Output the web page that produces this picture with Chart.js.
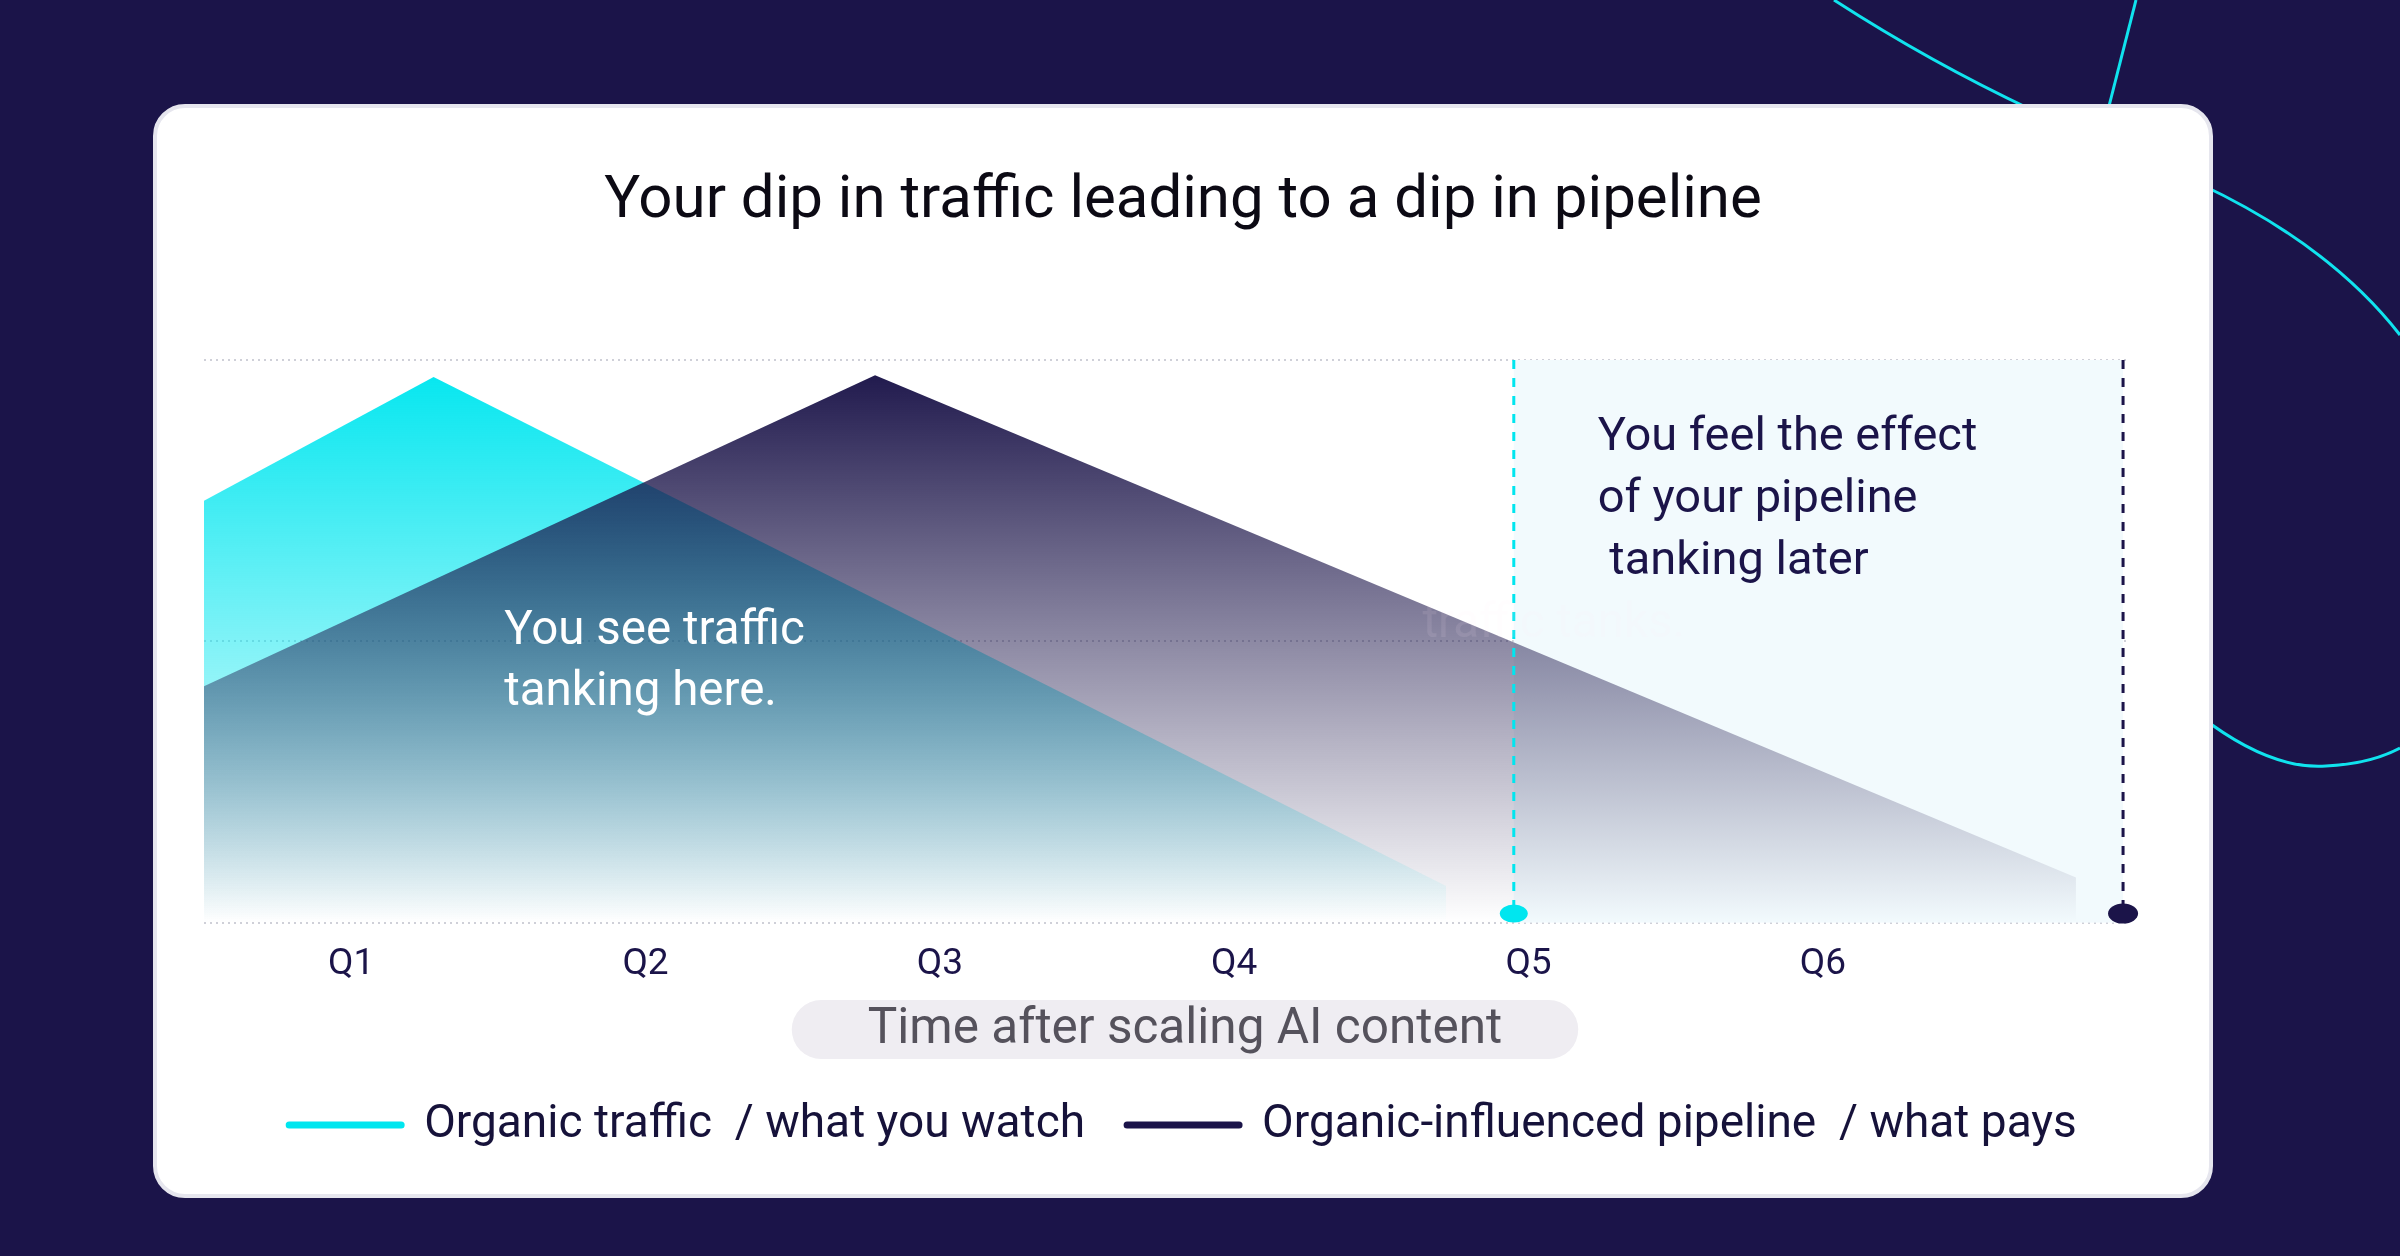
<!DOCTYPE html>
<html>
<head>
<meta charset="utf-8">
<script src="https://cdn.jsdelivr.net/npm/chart.js@4.4.1/dist/chart.umd.min.js"></script>
<style>
  html, body { margin: 0; padding: 0; }
  body { width: 2400px; height: 1256px; background: #1b1449; position: relative; overflow: hidden; font-family: Roboto, sans-serif; }
  #deco { position: absolute; left: 0; top: 0; }
  #card { position: absolute; left: 153px; top: 104px; width: 2060px; height: 1094px; box-sizing: border-box;
          background: #fff; border: 4px solid #e6e6ee; border-radius: 32px; }
  #wrap { position: absolute; left: 0; top: 0; right: 0; bottom: 0; }
</style>
</head>
<body>
<svg id="deco" width="2400" height="1256">
  <g fill="none" stroke="#10e3ee" stroke-width="3">
    <path d="M1834,0 Q1930,62 2032,110"/>
    <path d="M2136,0 L2108,110"/>
    <path d="M2200,184 Q2330,245 2400,335"/>
    <path d="M2200,716 Q2270,770 2326,766 Q2370,764 2400,748"/>
  </g>
</svg>
<div id="card"><div id="wrap"><canvas id="chart"></canvas></div></div>
<script>
// data (y = relative level 0-100, x = quarter index, Q1 = 0)
const quarters = ['Q1', 'Q2', 'Q3', 'Q4', 'Q5', 'Q6'];
const trafficX = [-0.5, 0.28, 3.72];
const trafficY = [75, 97, 6.5];
const pipelineX = [-0.5, 1.78, 5.86];
const pipelineY = [42, 97.3, 8];
const dropX = [3.95, 6.02];          // where traffic drop / pipeline drop is marked
const axisTitle = 'Time after scaling AI content';
const legendTexts = ['Organic traffic  / what you watch', 'Organic-influenced pipeline  / what pays'];

const CYAN = '#00e6ef';
const NAVY = '#1b1449';

const notes = [
  { lines: ['You see traffic', 'tanking here.'], x: 0.52, y: 49.5, size: 47.5, gap: 61, color: '#ffffff' },
  { lines: ['traffic tanks.'], x: 3.64, y: 50.8, size: 47.5, gap: 60, color: 'rgba(255,236,250,0.1)' },
  { lines: ['You feel the effect', 'of your pipeline', ' tanking later'], x: 4.235, y: 84, size: 47, gap: 62, color: NAVY }
];

function toPoints(xs, ys) {
  return xs.map((x, i) => ({ x: x, y: ys[i] }));
}

function fade(rgb) {
  return function(context) {
    const area = context.chart.chartArea;
    if (!area) return 'rgba(' + rgb + ',0.5)';
    const g = context.chart.ctx.createLinearGradient(0, area.top, 0, area.bottom);
    g.addColorStop(0, 'rgba(' + rgb + ',1)');
    g.addColorStop(0.5, 'rgba(' + rgb + ',0.5)');
    g.addColorStop(1, 'rgba(' + rgb + ',0)');
    return g;
  };
}

const extras = {
  id: 'extras',
  beforeDraw(chart) {
    // axis title in a pill, centred on the card
    const c = chart.ctx, xs = chart.scales.x;
    c.save();
    c.font = '49.5px Roboto';
    const tw = c.measureText(axisTitle).width;
    const w = tw + 152, h = 59;
    const cx = chart.width / 2 + 2;
    const cy = xs.top + 107;
    c.fillStyle = '#efedf2';
    c.beginPath();
    c.roundRect(cx - w / 2, cy - h / 2, w, h, h / 2);
    c.fill();
    c.fillStyle = '#55525c';
    c.textAlign = 'center';
    c.textBaseline = 'middle';
    c.fillText(axisTitle, cx, cy + 1);
    c.restore();
  },
  beforeDatasetsDraw(chart) {
    const c = chart.ctx, a = chart.chartArea, xs = chart.scales.x;
    const x0 = xs.getPixelForValue(dropX[0]), x1 = xs.getPixelForValue(dropX[1]);
    c.save();
    c.fillStyle = '#f2fafd';
    c.fillRect(x0, a.top, x1 - x0, a.bottom - a.top);
    c.restore();
  },
  afterDatasetsDraw(chart) {
    const c = chart.ctx, a = chart.chartArea, xs = chart.scales.x, ys = chart.scales.y;
    const cols = [CYAN, NAVY];
    const rx = [14, 15], ry = [9, 10];
    c.save();
    dropX.forEach((v, i) => {
      const px = xs.getPixelForValue(v);
      c.strokeStyle = cols[i];
      c.lineWidth = 3;
      c.setLineDash([9, 9]);
      c.beginPath();
      c.moveTo(px, a.top);
      c.lineTo(px, a.bottom - 9);
      c.stroke();
      c.setLineDash([]);
      c.fillStyle = cols[i];
      c.beginPath();
      c.ellipse(px, a.bottom - 9, rx[i], ry[i], 0, 0, Math.PI * 2);
      c.fill();
    });
    notes.forEach(n => {
      c.font = n.size + 'px Roboto';
      c.fillStyle = n.color;
      c.textBaseline = 'alphabetic';
      const px = xs.getPixelForValue(n.x), py = ys.getPixelForValue(n.y);
      n.lines.forEach((l, k) => c.fillText(l, px, py + k * n.gap));
    });
    c.restore();
  }
};

new Chart(document.getElementById('chart'), {
  type: 'line',
  data: {
    datasets: [
      {
        label: 'Organic traffic',
        data: toPoints(trafficX, trafficY),
        fill: 'origin',
        backgroundColor: fade('0,230,239'),
        borderWidth: 0,
        pointRadius: 0,
        tension: 0,
        order: 1
      },
      {
        label: 'Organic-influenced pipeline',
        data: toPoints(pipelineX, pipelineY),
        fill: 'origin',
        backgroundColor: fade('27,20,73'),
        borderWidth: 0,
        pointRadius: 0,
        tension: 0,
        order: 0
      }
    ]
  },
  options: {
    responsive: true,
    maintainAspectRatio: false,
    animation: false,
    layout: { padding: { left: 47, right: 47, top: 0, bottom: 36 } },
    scales: {
      x: {
        type: 'linear',
        min: -0.5,
        max: 6.03,
        afterBuildTicks: axis => { axis.ticks = quarters.map((q, i) => ({ value: i })); },
        afterFit: axis => { axis.height += 53; },
        ticks: {
          callback: (v) => quarters[v],
          color: NAVY,
          font: { family: 'Roboto', size: 37 },
          padding: 20,
          maxRotation: 0,
          autoSkip: false
        },
        grid: { display: false, drawTicks: false },
        border: { display: false }
      },
      y: {
        position: 'right',
        min: 0,
        max: 100,
        afterFit: axis => { axis.width = 36; },
        ticks: { display: false, stepSize: 50 },
        grid: { color: '#cfd0d8', lineWidth: 2, drawTicks: false },
        border: { display: false, dash: [2, 4] }
      }
    },
    plugins: {
      title: {
        display: true,
        text: 'Your dip in traffic leading to a dip in pipeline',
        color: '#0c0a14',
        font: { family: 'Roboto', size: 60, weight: 'normal' },
        padding: { top: 58, bottom: 122 }
      },
      legend: {
        position: 'bottom',
        labels: {
          usePointStyle: true,
          pointStyleWidth: 112,
          padding: 42,
          color: '#16123a',
          font: { family: 'Roboto', size: 46 },
          generateLabels: () => legendTexts.map((t, i) => ({
            text: t,
            fillStyle: [CYAN, NAVY][i],
            strokeStyle: [CYAN, NAVY][i],
            lineWidth: 7,
            lineCap: 'round',
            pointStyle: 'line',
            fontColor: '#16123a',
            hidden: false,
            datasetIndex: i
          }))
        }
      },
      tooltip: { enabled: false }
    }
  },
  plugins: [extras]
});
</script>
</body>
</html>
